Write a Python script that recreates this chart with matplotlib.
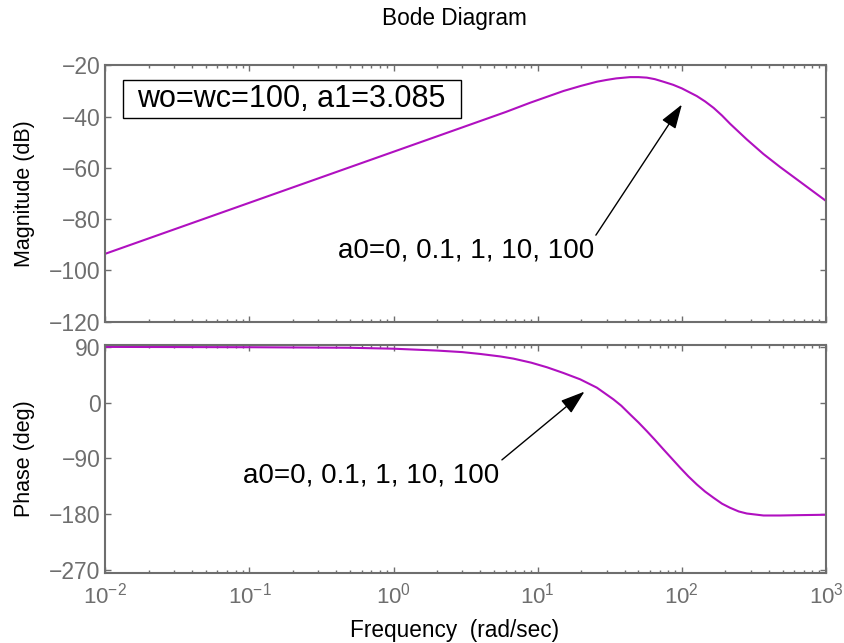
import numpy as np
import matplotlib
matplotlib.use("Agg")
import matplotlib.pyplot as plt
from matplotlib.ticker import LogLocator, FixedLocator
from matplotlib.patches import Rectangle

plt.rcParams['font.family'] = ['Liberation Sans', 'DejaVu Sans']
plt.rcParams['mathtext.fontset'] = 'custom'
plt.rcParams['mathtext.rm'] = 'Liberation Sans'
plt.rcParams['mathtext.it'] = 'Liberation Sans:italic'
plt.rcParams['mathtext.default'] = 'regular'

# magnitude curve (rad/s, dB)
mag_freq = [0.01, 0.1, 1, 3, 6, 8.85, 15.1, 20, 25.7, 30, 35, 43.7, 50, 57.1,
            65, 74.5, 87, 100, 127, 145, 166, 190, 216, 282, 368, 481, 628,
            819, 1000]
mag_db = [-93.5, -73.6, -53.7, -44.2, -38.2, -34.6, -30.0, -28.0, -26.4, -25.7,
          -25.1, -24.6, -24.6, -24.8, -25.4, -26.4, -27.6, -29.0, -32.0, -34.1,
          -36.6, -39.6, -42.8, -48.9, -54.6, -59.7, -64.5, -69.3, -72.9]

# phase curve (rad/s, deg)
ph_freq = [0.01, 0.1, 0.5, 1, 2, 3, 4, 5.5, 6.78, 9, 11.6, 15, 19.7, 25.7,
           33.5, 38, 43.7, 50, 57.1, 65, 74.5, 85, 97.3, 111, 127, 145, 166,
           190, 216, 248, 282, 368, 481, 628, 1000]
ph_deg = [89.9, 89.4, 88.5, 87.0, 84.0, 81.5, 78.5, 74.5, 71.0, 64.5, 57.0,
          48.0, 37.6, 24.2, 5.3, -5.0, -18.9, -32.0, -45.9, -60.0, -75.4, -90.0,
          -105.0, -119.0, -132.0, -143.5, -153.5, -163.0, -169.6, -175.5,
          -178.8, -182.0, -182.0, -181.5, -180.8]

mag_ticks = [-120, -100, -80, -60, -40, -20]
ph_ticks = [-270, -180, -90, 0, 90]
label_txt = "a0=0, 0.1, 1, 10, 100"
box_txt = "wo=wc=100, a1=3.085"

gray = '#6e6e6e'
line_col = '#b010c0'

fig = plt.figure(figsize=(8.44, 6.43), dpi=100)
ax1 = fig.add_axes([0.1248, 0.4997, 0.8539, 0.3987])
ax2 = fig.add_axes([0.1248, 0.1093, 0.8539, 0.3537])

for ax in (ax1, ax2):
    ax.set_xscale('log')
    ax.set_xlim(1e-2, 1e3)
    ax.xaxis.set_major_locator(LogLocator(base=10, numticks=10))
    ax.xaxis.set_minor_locator(LogLocator(base=10, subs=np.arange(2, 10), numticks=10))
    ax.tick_params(which='both', direction='in', top=True, right=True,
                   color=gray, labelcolor=gray)
    ax.tick_params(axis='y', labelsize=16.5)
    ax.tick_params(axis='x', labelsize=16)
    ax.tick_params(which='major', length=4.5, width=1)
    ax.tick_params(which='minor', length=2.5, width=1)
    for sp in ax.spines.values():
        sp.set_color(gray)
        sp.set_linewidth(1.5)

arrow = dict(arrowstyle='-|>,head_length=1.5,head_width=0.5', mutation_scale=10,
             color='black', lw=1, shrinkA=0, shrinkB=0, relpos=(1.0, 1.0))

ax1.plot(mag_freq, mag_db, color=line_col, lw=1.5)
ax1.set_ylim(-120, -20)
ax1.yaxis.set_major_locator(FixedLocator(mag_ticks))
ax1.tick_params(axis='x', labelbottom=False)
ax1.set_ylabel('Magnitude (dB)', fontsize=15.5, color='black', labelpad=10)

ax1.add_patch(Rectangle((0.0241, 0.7945), 0.4694, 0.1482, transform=ax1.transAxes,
                        fc='white', ec='black', lw=1, zorder=3))
ax1.text(0.044, 0.8686, box_txt, transform=ax1.transAxes, fontsize=22,
         va='center', ha='left', zorder=4)
ax1.annotate(label_txt, xy=(100, -35.3), xytext=(0.41, -92.4),
             fontsize=20, va='center', ha='left', arrowprops=arrow)

ax2.plot(ph_freq, ph_deg, color=line_col, lw=1.5)
ax2.set_ylim(-274.3, 92.5)
ax2.yaxis.set_major_locator(FixedLocator(ph_ticks))
ax2.set_ylabel('Phase (deg)', fontsize=15.5, color='black', labelpad=10)
ax2.tick_params(axis='x', pad=7)
ax2.annotate(label_txt, xy=(21.1, 17.8), xytext=(0.09, -117),
             fontsize=20, va='center', ha='left', arrowprops=arrow)

fig.text(0.538, 0.972, 'Bode Diagram', ha='center', va='center', fontsize=16.3)
fig.text(0.538, 0.02, 'Frequency  (rad/sec)', ha='center', va='center', fontsize=16.3)

fig.savefig('out.png', dpi=100)
